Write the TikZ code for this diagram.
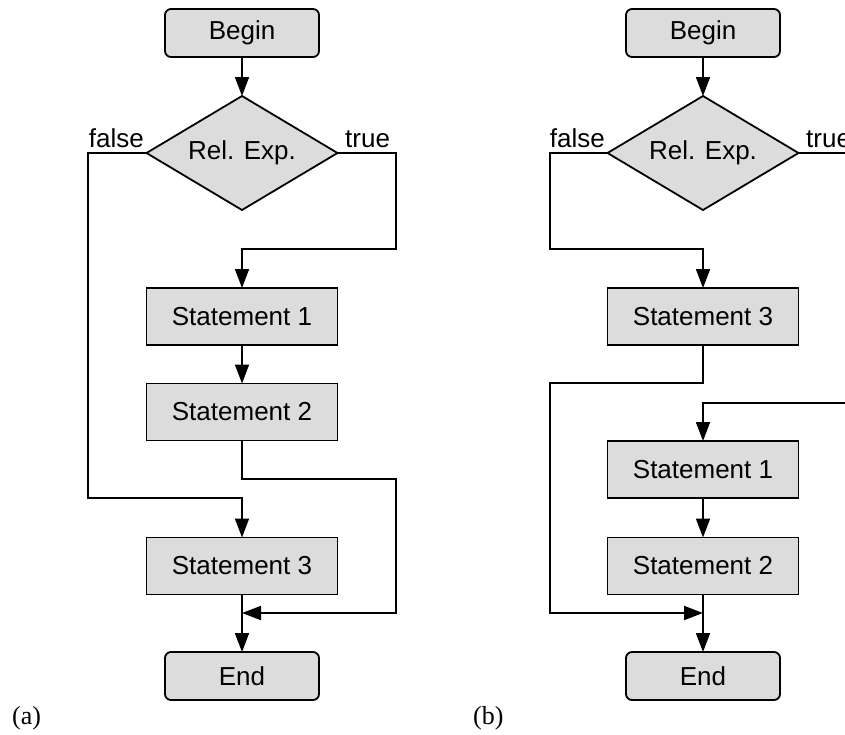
\documentclass[tikz,border=0pt]{standalone}
\usepackage{fontspec}
\setmainfont{Liberation Serif}
\newfontfamily\arialf{Liberation Sans}
\usetikzlibrary{arrows.meta,shapes.geometric}
\definecolor{boxfill}{HTML}{DCDCDC}
\tikzset{
  base/.style={draw=black, line width=1.8pt, fill=boxfill, inner sep=0pt, outer sep=0pt,
    font=\arialf\fontsize{26}{30}\selectfont},
  termbox/.style={base, rounded corners=6pt, minimum width=154pt, minimum height=48pt},
  stmtbox/.style={base, minimum width=191pt, minimum height=57pt},
  decbox/.style={base, diamond, aspect=1.675, minimum width=191pt, minimum height=114pt},
  lbl/.style={inner sep=0pt, font=\arialf\fontsize{26}{30}\selectfont},
  captext/.style={inner sep=0pt, font=\fontsize{26}{30}\selectfont},
  conn/.style={line width=1.8pt, draw=black},
  arr/.style={conn, -{Triangle[length=19pt,width=14pt]}}
}
\begin{document}
\begin{tikzpicture}[x=1pt,y=-1pt]
\useasboundingbox (0,0) rectangle (845,734);
\clip (0,0) rectangle (845,734);
% ---------- (a) ----------
\node[termbox] (beginA) at (242,33) {Begin};
\node[decbox] (decA) at (242,153) {Rel. Exp.};
\node[stmtbox] (s1A) at (242,316.5) {Statement 1};
\node[stmtbox] (s2A) at (242,412) {Statement 2};
\node[stmtbox] (s3A) at (242,566) {Statement 3};
\node[termbox] (endA) at (242,676) {End};
\node[lbl, anchor=base east] (fA) at (144,147) {false};
\node[lbl, anchor=base west] (tA) at (345,147) {true};
\node[captext, anchor=base west] (capA) at (12,724) {(a)};
\coordinate (aL) at (88,498);
\coordinate (aR) at (396,249);
\coordinate (aR2) at (396,479);
\coordinate (aM) at (242,613);
\draw[arr] (beginA.south) -- (decA.north);
\draw[arr] (decA.west) -| (aL) -| (s3A.north);
\draw[arr] (decA.east) -| (aR) -| (s1A.north);
\draw[arr] (s1A.south) -- (s2A.north);
\draw[arr] (s2A.south) |- (aR2) |- (aM);
\draw[arr] (s3A.south) -- (endA.north);
% ---------- (b) ----------
\node[termbox] (beginB) at (703,33) {Begin};
\node[decbox] (decB) at (703,153) {Rel. Exp.};
\node[stmtbox] (s3B) at (703,316.5) {Statement 3};
\node[stmtbox] (s1B) at (703,469.5) {Statement 1};
\node[stmtbox] (s2B) at (703,566) {Statement 2};
\node[termbox] (endB) at (703,676) {End};
\node[lbl, anchor=base east] (fB) at (605,147) {false};
\node[lbl, anchor=base west] (tB) at (806,147) {true};
\node[captext, anchor=base west] (capB) at (473,724) {(b)};
\coordinate (bL1) at (550,249);
\coordinate (bL2) at (550,383);
\coordinate (bM) at (703,613);
\coordinate (bR) at (857,403);
\draw[arr] (beginB.south) -- (decB.north);
\draw[arr] (decB.west) -| (bL1) -| (s3B.north);
\draw[arr] (s3B.south) |- (bL2) |- (bM);
\draw[arr] (decB.east) -| (bR) -| (s1B.north);
\draw[arr] (s1B.south) -- (s2B.north);
\draw[arr] (s2B.south) -- (endB.north);
\end{tikzpicture}
\end{document}
